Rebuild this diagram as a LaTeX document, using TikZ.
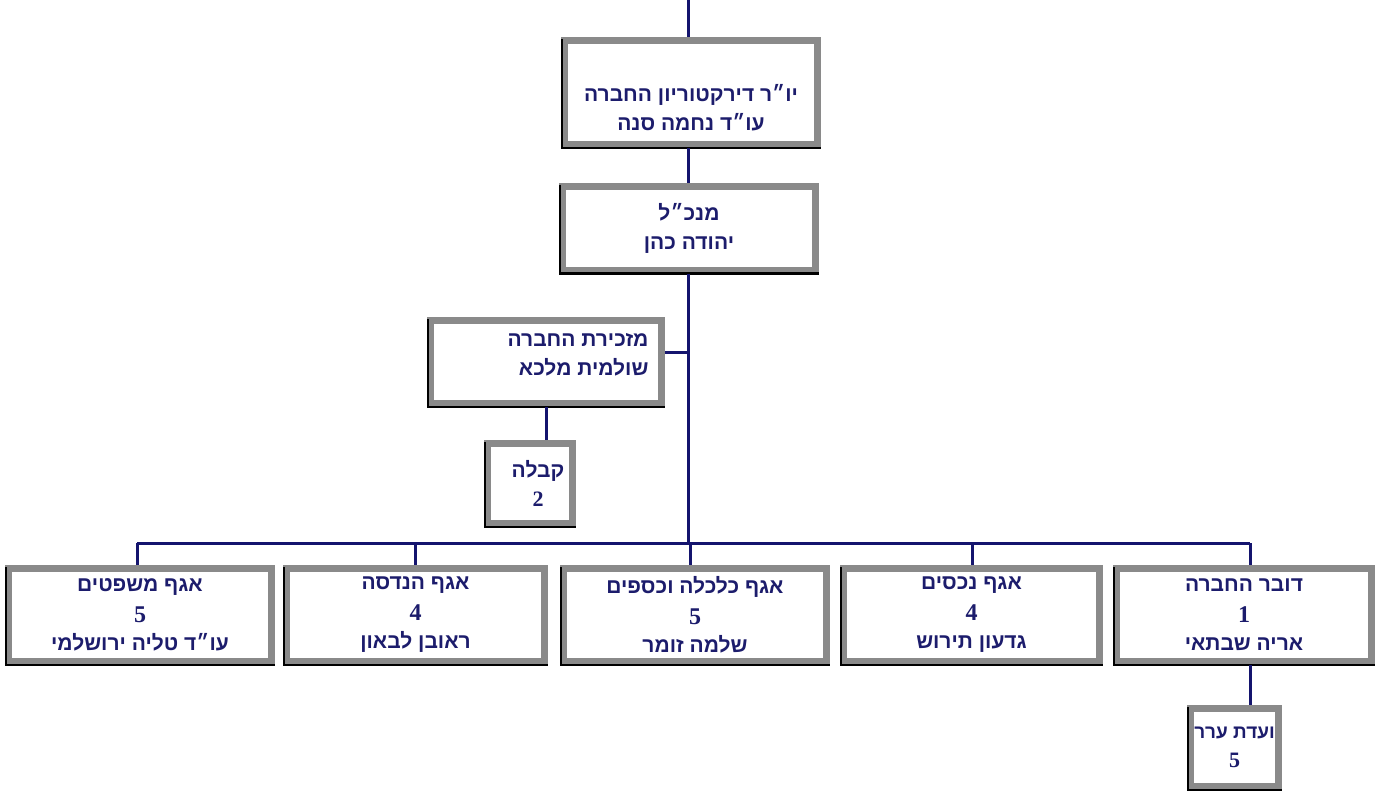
\documentclass[tikz,border=0pt]{standalone}
\usepackage{fontspec}
\TeXXeTstate=1
\newfontfamily\heb[Script=Hebrew]{Liberation Sans}
\newfontfamily\num{Liberation Serif}
\definecolor{navy}{HTML}{1C1C6C}
\definecolor{linecol}{HTML}{14146E}
\definecolor{boxgray}{HTML}{8A8A8A}
\newcommand{\hl}[1]{\beginR #1\endR}
\begin{document}
\begin{tikzpicture}[x=1pt,y=-1pt,
  orgbox/.style={draw=boxgray, line width=7pt, fill=white, rectangle, inner sep=0pt,
    text=navy, align=center, font=\heb\bfseries\fontsize{21}{29}\selectfont},
  lbl/.style={inner sep=0pt, text=navy, align=center, font=\heb\bfseries\fontsize{21}{29}\selectfont},
  conn/.style={draw=linecol, line width=3pt},
  shade/.style={draw=black, line width=2.5pt}]
\useasboundingbox (0,0) rectangle (1380,793);
\fill[white] (0,0) rectangle (1380,793);
\coordinate (top) at (688,0);
\node[orgbox, minimum width=253pt, minimum height=104pt] (chair) at (691,92.5) {};
\node[lbl] (chairt) at (691,108) {\hl{יו״ר דירקטוריון החברה}\\\hl{עו״ד נחמה סנה}};
\node[orgbox, minimum width=253pt, minimum height=84pt] (ceo) at (689,228)
  {\hl{מנכ״ל}\\\hl{יהודה כהן}};
\node[orgbox, minimum width=231pt, minimum height=83pt] (sec) at (546,362) {};
\node[lbl, align=right] (sect) at (578,355) {\hl{מזכירת החברה}\\\hl{שולמית מלכא}};
\node[orgbox, minimum width=85pt, minimum height=80pt] (kab) at (530,483.5) {};
\node[lbl] (kabt) at (538,483) {\hl{קבלה}\\{\num\bfseries\fontsize{22}{24}\selectfont 2}};
\node[orgbox, minimum width=263pt, minimum height=93pt] (law) at (140,615)
  {\hl{אגף משפטים}\\[2pt]{\num\fontsize{24}{18}\selectfont 5}\\[-1pt]\hl{עו״ד טליה ירושלמי}};
\node[orgbox, minimum width=258pt, minimum height=93pt] (eng) at (415.5,615)
  {\hl{אגף הנדסה}\\[2pt]{\num\bfseries\fontsize{24}{18}\selectfont 4}\\[-1pt]\hl{ראובן לבאון}};
\node[orgbox, minimum width=263pt, minimum height=93pt] (fin) at (695,615)
  {\hl{אגף כלכלה וכספים}\\[2pt]{\num\fontsize{24}{18}\selectfont 5}\\[-1pt]\hl{שלמה זומר}};
\node[orgbox, minimum width=256pt, minimum height=93pt] (prop) at (971.5,615)
  {\hl{אגף נכסים}\\[2pt]{\num\bfseries\fontsize{24}{18}\selectfont 4}\\[-1pt]\hl{גדעון תירוש}};
\node[orgbox, minimum width=255pt, minimum height=93pt] (spok) at (1244,615)
  {\hl{דובר החברה}\\[2pt]{\num\fontsize{24}{18}\selectfont 1}\\[-1pt]\hl{אריה שבתאי}};
\node[orgbox, minimum width=88pt, minimum height=78pt,
  font=\heb\bfseries\fontsize{19}{29}\selectfont] (appeal) at (1234.5,747.5)
  {\hl{ועדת ערר}\\{\num\bfseries\fontsize{22}{24}\selectfont 5}};
\foreach \n in {chair,ceo,sec,kab,law,eng,fin,prop,spok,appeal}{
  \draw[shade] ([xshift=1pt,yshift=-2pt]\n.north west) -- ([xshift=1pt]\n.south west) -- (\n.south east);
}
\coordinate (bus) at (688,543);
\coordinate (secj) at (688,352);
\draw[conn] (top) -- (top |- chair.north);
\draw[conn] (top |- chair.south) -- (top |- ceo.north);
\draw[conn] (top |- ceo.south) -- (bus);
\draw[conn] ([yshift=10pt]sec.east) -- (secj);
\draw[conn] (sec.south) -- (sec.south |- kab.north);
\draw[conn] (137,543) -- (1250,543);
\draw[conn] (137,543) -- (137,0 |- law.north);
\draw[conn] (415,543) -- (415,0 |- eng.north);
\draw[conn] (690,543) -- (690,0 |- fin.north);
\draw[conn] (972,543) -- (972,0 |- prop.north);
\draw[conn] (1250,543) -- (1250,0 |- spok.north);
\draw[conn] (1250,0 |- spok.south) -- (1250,0 |- appeal.north);
\end{tikzpicture}
\end{document}
